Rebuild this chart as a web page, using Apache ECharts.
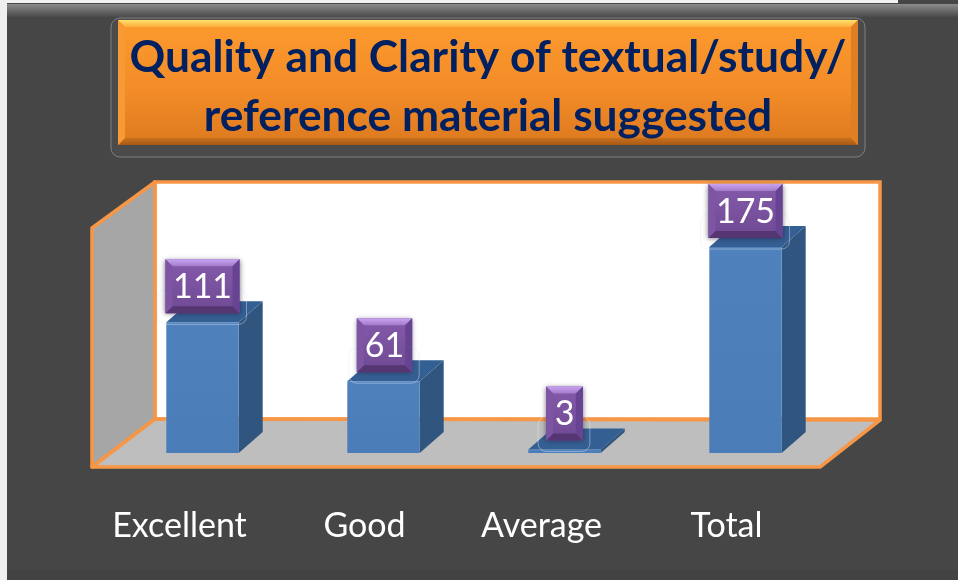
<!DOCTYPE html>
<html><head><meta charset="utf-8">
<style>html,body{margin:0;padding:0;background:#464646}#c{width:958px;height:580px}</style>
<script src="https://cdn.jsdelivr.net/npm/echarts@6/dist/echarts.min.js"></script>
</head><body><div id="c"></div>
<script>
const categories = ['Excellent', 'Good', 'Average', 'Total'];
const values = [111, 61, 3, 175];
const titleText = 'Quality and Clarity of textual/study/\nreference material suggested';

const FONT = 'Lato, Carlito, "Open Sans", sans-serif';
const ORANGE = '#f79646';
const labelShift = [46, 38, 46, 38];

function vg(stops) {
  return { type: 'linear', x: 0, y: 0, x2: 0, y2: 1,
    colorStops: stops.map((c) => ({ offset: c[0], color: c[1] })) };
}
function poly(points, fill, z, stroke, lw) {
  return { type: 'polygon', z: z, silent: true, shape: { points },
    style: { fill: fill, stroke: stroke || null, lineWidth: lw || 0, lineJoin: 'round' } };
}
function rect(x, y, w, h, fill, z, r, stroke, lw) {
  return { type: 'rect', z: z, silent: true, shape: { x, y, width: w, height: h, r: r || 0 },
    style: { fill: fill, stroke: stroke || null, lineWidth: lw || 0 } };
}

const decor = [
  // sheet edges
  rect(0, 0, 898, 3, '#f2f2f2', 0),
  rect(0, 0, 7, 580, '#efefef', 0),
  rect(7, 4, 951, 13, vg([[0, '#8c8c8c'], [0.5, '#6a6a6a'], [1, '#4a4a4a']]), 0),
  rect(7, 570, 951, 10, '#424242', 0),
  // title plate
  rect(111, 18, 754, 139, '#4b4b4b', 1, 9, '#808080', 1),
  rect(118, 20, 740, 125, vg([[0, '#fb9a2e'], [0.55, '#f48c28'], [1, '#dc7a1f']]), 2),
  poly([[118, 20], [858, 20], [851, 27], [125, 27]], vg([[0, '#ffe070'], [1, '#ffac3a']]), 3),
  poly([[118, 145], [858, 145], [851, 138], [125, 138]], vg([[0, '#c8701f'], [1, '#a85a14']]), 3),
  poly([[118, 20], [125, 27], [125, 138], [118, 145]], '#f59a35', 3),
  poly([[858, 20], [851, 27], [851, 138], [858, 145]], '#dd8023', 3),
  // 3D plot box
  rect(155, 182, 725, 237, '#ffffff', 1, 0, ORANGE, 3.5),
  poly([[92, 228], [155, 182], [155, 419], [92, 467]], '#a6a6a6', 2, ORANGE, 3.5),
  poly([[92, 467], [155, 419], [880, 420], [820, 467]], '#bebebe', 2, ORANGE, 3.5)
];

function renderBar(params, api) {
  const i = api.value(0), v = api.value(1);
  const base = api.coord([i, 0]), top = api.coord([i, v]);
  const w = api.size([1, 0])[0] * 0.4;
  const dx = 24, dy = 21;
  const xl = base[0] - w / 2, xr = base[0] + w / 2;
  const b = base[1], t = top[1];
  const s = String(v);
  const lw = 18 + s.length * 18.7, lh = 54;
  const cx = base[0] + (s.length === 2 ? 1 : 0);
  const lx = cx - lw / 2, ly = t - 9 - lh, bv = 7;
  const children = [
    poly([[xr, t], [xr + dx, t - dy], [xr + dx, b - dy], [xr, b]], '#30557f', 1),
    poly([[xl, t], [xr, t], [xr + dx, t - dy], [xl + dx, t - dy]], '#345f93', 1),
    rect(xl, t, w, b - t, vg([[0, '#4f81bd'], [1, '#4a7cb8']]), 2),
    rect(lx - 8, ly + lh + 11 - 35, lw + 15, 35, 'rgba(0,0,0,0)', 3, 8, 'rgba(225,232,245,0.55)', 0.8),
    { type: 'rect', z: 4, silent: true, shape: { x: lx, y: ly, width: lw, height: lh },
      style: { fill: vg([[0, '#845aab'], [1, '#6f4a93']]), shadowBlur: 5, shadowColor: 'rgba(30,20,50,0.6)', shadowOffsetY: 1 } },
    poly([[lx, ly], [lx + lw, ly], [lx + lw - bv, ly + bv], [lx + bv, ly + bv]], vg([[0, '#c9a3f0'], [1, '#a27ccb']]), 5),
    poly([[lx, ly + lh], [lx + lw, ly + lh], [lx + lw - bv, ly + lh - bv], [lx + bv, ly + lh - bv]], '#553672', 5),
    poly([[lx, ly], [lx + bv, ly + bv], [lx + bv, ly + lh - bv], [lx, ly + lh]], '#7d55a3', 5),
    poly([[lx + lw, ly], [lx + lw - bv, ly + bv], [lx + lw - bv, ly + lh - bv], [lx + lw, ly + lh]], '#674491', 5),
    { type: 'text', z: 6, silent: true,
      style: { text: s, x: lx + lw / 2, y: ly + lh / 2 + 1, align: 'center', verticalAlign: 'middle',
        fill: '#ffffff', font: '34px ' + FONT } }
  ];
  return { type: 'group', children: children };
}

const chart = echarts.init(document.getElementById('c'), null, { renderer: 'canvas', width: 958, height: 580 });
chart.setOption({
  animation: false,
  backgroundColor: '#464646',
  title: {
    text: titleText, left: 488, top: 28, padding: 0, textAlign: 'center',
    textStyle: { color: '#002060', fontFamily: FONT, fontWeight: 'bold', fontSize: 44.3, lineHeight: 59 }
  },
  grid: { left: 112, right: 122, top: 217.6, bottom: 127, containLabel: false },
  xAxis: {
    type: 'category',
    data: categories.map((c, i) => ({ value: c, textStyle: { padding: [0, labelShift[i], 0, 0] } })),
    axisLine: { show: false }, axisTick: { show: false }, splitLine: { show: false },
    axisLabel: { interval: 0, color: '#ffffff', fontFamily: FONT, fontSize: 34, margin: 56 }
  },
  yAxis: { type: 'value', min: 0, max: 200, show: false },
  graphic: { elements: decor },
  series: [{
    type: 'custom', coordinateSystem: 'cartesian2d', clip: false, silent: true,
    data: values.map((v, i) => [i, v]),
    encode: { x: 0, y: 1 },
    renderItem: renderBar
  }]
});
</script></body></html>
